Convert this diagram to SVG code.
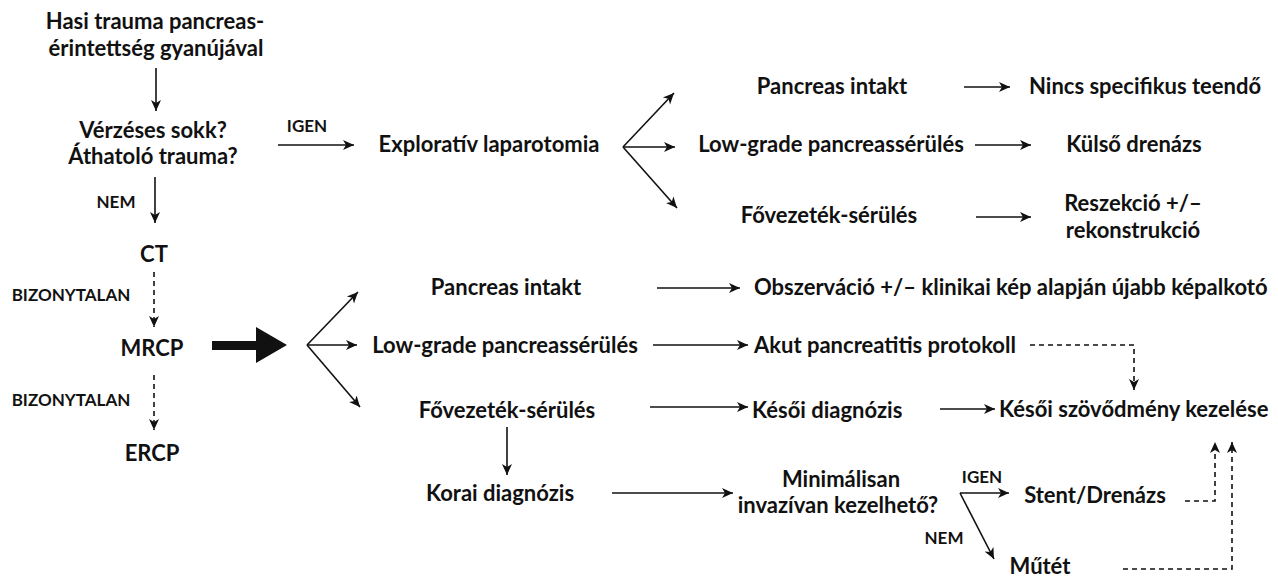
<svg xmlns="http://www.w3.org/2000/svg" width="1278" height="579" viewBox="0 0 1278 579">
<style>
text{font-family:Lato,"Open Sans","Liberation Sans",sans-serif;font-weight:700;fill:#111}
.m{font-size:22px;text-anchor:middle}
.s{font-size:22px;text-anchor:start}
.l{font-size:17px;text-anchor:middle}
.c{fill:none;stroke:#111;stroke-width:1.6}
.d{fill:none;stroke:#111;stroke-width:1.6;stroke-dasharray:5 4}
</style>
<defs>
<marker id="a" viewBox="-11 -6 12 12" refX="0" refY="0" markerWidth="12" markerHeight="12" markerUnits="userSpaceOnUse" orient="auto">
<path d="M0,0 L-11,-5 L-8,0 L-11,5 Z" fill="#111"/>
</marker>
</defs>
<rect width="1278" height="579" fill="#fff"/>
<g id="connectors">
<line class="c" x1="156" y1="68" x2="156" y2="111" marker-end="url(#a)"/>
<line class="c" x1="155" y1="177" x2="155" y2="223" marker-end="url(#a)"/>
<line class="d" x1="154" y1="272" x2="154" y2="327" marker-end="url(#a)"/>
<line class="d" x1="154" y1="375" x2="154" y2="430" marker-end="url(#a)"/>
<polygon points="212,341 256,341 256,327 287,345 256,363 256,350 212,350" fill="#111"/>
<line class="c" x1="278" y1="145" x2="354" y2="145" marker-end="url(#a)"/>
<line class="c" x1="623" y1="147" x2="674" y2="93" marker-end="url(#a)"/>
<line class="c" x1="623" y1="147" x2="675" y2="147" marker-end="url(#a)"/>
<line class="c" x1="623" y1="147" x2="677" y2="208" marker-end="url(#a)"/>
<line class="c" x1="964" y1="87" x2="1010" y2="87" marker-end="url(#a)"/>
<line class="c" x1="975" y1="145" x2="1031" y2="145" marker-end="url(#a)"/>
<line class="c" x1="976" y1="217" x2="1031" y2="217" marker-end="url(#a)"/>
<line class="c" x1="307" y1="345" x2="358" y2="292" marker-end="url(#a)"/>
<line class="c" x1="307" y1="345" x2="357" y2="345" marker-end="url(#a)"/>
<line class="c" x1="307" y1="345" x2="360" y2="407" marker-end="url(#a)"/>
<line class="c" x1="657" y1="288" x2="740" y2="288" marker-end="url(#a)"/>
<line class="c" x1="653" y1="345" x2="748" y2="345" marker-end="url(#a)"/>
<line class="c" x1="650" y1="407" x2="748" y2="407" marker-end="url(#a)"/>
<polyline class="d" points="1030,345 1134,345 1134,390" marker-end="url(#a)"/>
<line class="c" x1="940" y1="409" x2="995" y2="409" marker-end="url(#a)"/>
<line class="c" x1="507" y1="427" x2="507" y2="475" marker-end="url(#a)"/>
<line class="c" x1="612" y1="493" x2="733" y2="493" marker-end="url(#a)"/>
<line class="c" x1="960" y1="493" x2="1009" y2="493" marker-end="url(#a)"/>
<line class="c" x1="960" y1="493" x2="994" y2="559" marker-end="url(#a)"/>
<polyline class="d" points="1185,501 1215,501 1215,442" marker-end="url(#a)"/>
<polyline class="d" points="1123,569 1232,569 1232,442" marker-end="url(#a)"/>
</g>
<g id="n-start"><text class="m" x="155" y="29">Hasi trauma pancreas-</text><text class="m" x="156" y="56">érintettség gyanújával</text></g>
<g id="n-q1"><text class="m" x="153" y="138">Vérzéses sokk?</text><text class="m" x="153" y="164">Áthatoló trauma?</text></g>
<g id="l-nem1"><text class="l" x="116" y="208">NEM</text></g>
<g id="n-ct"><text class="m" x="154" y="262">CT</text></g>
<g id="l-biz1"><text class="l" x="71" y="301">BIZONYTALAN</text></g>
<g id="n-mrcp"><text class="m" x="152" y="356">MRCP</text></g>
<g id="l-biz2"><text class="l" x="71" y="406">BIZONYTALAN</text></g>
<g id="n-ercp"><text class="m" x="152" y="461">ERCP</text></g>
<g id="l-igen1"><text class="l" x="307" y="132">IGEN</text></g>
<g id="n-explor"><text class="m" x="489" y="152">Exploratív laparotomia</text></g>
<g id="n-t-intakt"><text class="m" x="832" y="94">Pancreas intakt</text></g>
<g id="n-t-nincs"><text class="s" x="1029" y="94">Nincs specifikus teendő</text></g>
<g id="n-t-low"><text class="m" x="831" y="152">Low-grade pancreassérülés</text></g>
<g id="n-t-kulso"><text class="m" x="1134" y="152">Külső drenázs</text></g>
<g id="n-t-fo"><text class="m" x="829" y="223">Fővezeték-sérülés</text></g>
<g id="n-t-resz"><text class="m" x="1133" y="211">Reszekció +/–</text><text class="m" x="1133" y="238">rekonstrukció</text></g>
<g id="n-b-intakt"><text class="m" x="506" y="295">Pancreas intakt</text></g>
<g id="n-b-obs"><text class="s" x="754" y="295">Obszerváció +/– klinikai kép alapján újabb képalkotó</text></g>
<g id="n-b-low"><text class="m" x="505" y="353">Low-grade pancreassérülés</text></g>
<g id="n-b-akut"><text class="s" x="754" y="353">Akut pancreatitis protokoll</text></g>
<g id="n-b-fo"><text class="m" x="507" y="418">Fővezeték-sérülés</text></g>
<g id="n-b-kesoi"><text class="s" x="752" y="418">Késői diagnózis</text></g>
<g id="n-b-szov"><text class="s" x="999" y="417">Késői szövődmény kezelése</text></g>
<g id="n-korai"><text class="m" x="500" y="501">Korai diagnózis</text></g>
<g id="n-min"><text class="m" x="841" y="487">Minimálisan</text><text class="m" x="838" y="513">invazívan kezelhető?</text></g>
<g id="l-igen2"><text class="l" x="982" y="483">IGEN</text></g>
<g id="l-nem2"><text class="l" x="944" y="544">NEM</text></g>
<g id="n-stent"><text class="m" x="1095" y="503">Stent/Drenázs</text></g>
<g id="n-mutet"><text class="m" x="1040" y="574">Műtét</text></g>
</svg>
